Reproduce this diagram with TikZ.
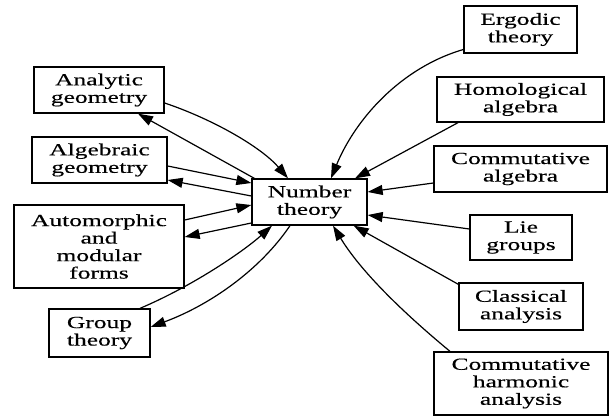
\documentclass[tikz,border=0pt]{standalone}
\usepackage{fontspec}
\newfontfamily\nfont[FakeStretch=1.5,FakeBold=0.4]{Liberation Serif}
\usetikzlibrary{arrows.meta}
\tikzset{
  box/.style={draw, line width=1.3pt, align=center, inner sep=0pt, font={\nfont\fontsize{17}{17.5}\selectfont}},
  conn/.style={-{Triangle[length=15pt,width=10pt]}, line width=1.2pt}
}
\begin{document}
\begin{tikzpicture}[x=1pt,y=-1pt]
\useasboundingbox[fill=white] (0,0) rectangle (610,417);
% nodes
\node[box, minimum width=115pt, minimum height=46pt] (nt) at (309.5,202) {Number\\theory};
\node[box, minimum width=130pt, minimum height=46pt] (ag) at (99,90) {Analytic\\geometry};
\node[box, minimum width=135pt, minimum height=46pt] (alg) at (99.5,160) {Algebraic\\geometry};
\node[box, minimum width=170pt, minimum height=83pt] (auto) at (99,246.5) {Automorphic\\and\\modular\\forms};
\node[box, minimum width=101pt, minimum height=48pt] (grp) at (99.5,333) {Group\\theory};
\node[box, minimum width=113pt, minimum height=47pt] (erg) at (520.5,29.5) {Ergodic\\theory};
\node[box, minimum width=167pt, minimum height=45pt] (hom) at (520.5,99.5) {Homological\\algebra};
\node[box, minimum width=173pt, minimum height=46pt] (ca) at (520.5,169) {Commutative\\algebra};
\node[box, minimum width=102pt, minimum height=45pt] (lie) at (521,237.5) {Lie\\groups};
\node[box, minimum width=124pt, minimum height=47pt] (cla) at (521,306.5) {Classical\\analysis};
\node[box, minimum width=174pt, minimum height=63pt] (cha) at (521,383.5) {Commutative\\harmonic\\analysis};
% left connectors
\draw[conn] ([yshift=-13pt]ag.east) .. controls (215,120) and (262,148) .. ([xshift=-21.5pt]nt.north);
\draw[conn] ([xshift=3pt]nt.north west) -- ([xshift=39pt]ag.south);
\draw[conn] ([yshift=-6pt]alg.east) -- ([yshift=19pt]nt.west);
\draw[conn] ([yshift=6pt]nt.west) -- ([yshift=-20pt]alg.east);
\draw[conn] ([yshift=26.5pt]auto.east) -- ([yshift=-3pt]nt.west);
\draw[conn] ([yshift=-21pt]nt.west) -- ([yshift=9.5pt]auto.east);
\draw[conn] ([xshift=40.5pt]grp.north) .. controls (195,285) and (245,250) .. ([xshift=-37.5pt]nt.south);
\draw[conn] ([xshift=-19.5pt]nt.south) .. controls (260,270) and (210,305) .. ([yshift=6pt]grp.east);
% right connectors
\draw[conn] ([yshift=-20pt]erg.west) .. controls (400,68) and (355,120) .. ([xshift=21.5pt]nt.north);
\draw[conn] ([xshift=-62.5pt]hom.south) -- ([xshift=45.5pt]nt.north);
\draw[conn] ([yshift=-14pt]ca.west) -- ([yshift=10pt]nt.east);
\draw[conn] ([yshift=8.5pt]lie.west) -- ([yshift=-13pt]nt.east);
\draw[conn] ([yshift=-2pt]cla.north west) -- ([xshift=-14pt]nt.south east);
\draw[conn] ([xshift=-71pt]cha.north) .. controls (400,310) and (360,270) .. ([xshift=23.5pt]nt.south);
\end{tikzpicture}
\end{document}
